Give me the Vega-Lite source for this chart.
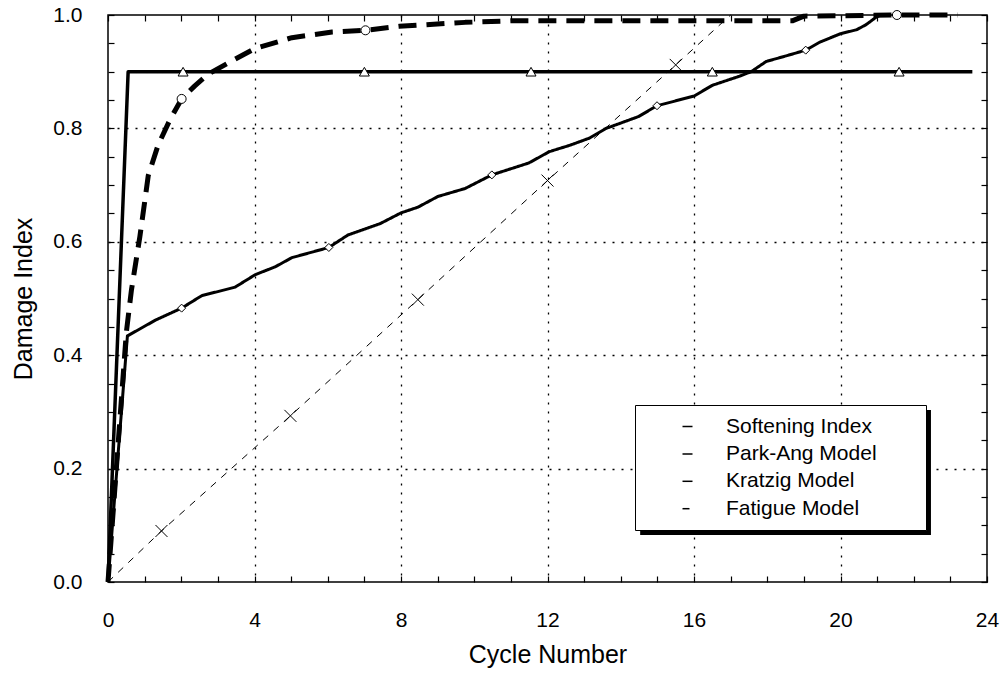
{
  "$schema": "https://vega.github.io/schema/vega-lite/v6.json",
  "autosize": {"type": "none"},
  "width": 879,
  "height": 567,
  "padding": {"left": 108, "top": 15, "right": 13, "bottom": 92},
  "background": "white",
  "config": {
    "font": "Liberation Sans",
    "view": {"stroke": "black", "strokeWidth": 1.5},
    "axis": {
      "labelFont": "Liberation Sans",
      "labelFontSize": 21,
      "labelColor": "black",
      "titleFont": "Liberation Sans",
      "titleFontSize": 25,
      "titleFontWeight": "normal",
      "titleColor": "black",
      "tickColor": "black",
      "tickWidth": 1.2,
      "domain": false
    }
  },
  "datasets": {
    "lines": [
      {"series": "Softening Index", "x": 0, "y": 0},
      {"series": "Softening Index", "x": 0.55, "y": 0.9},
      {"series": "Softening Index", "x": 23.6, "y": 0.9},
      {"series": "Park-Ang Model", "x": 0, "y": 0},
      {"series": "Park-Ang Model", "x": 0.53, "y": 0.434},
      {"series": "Park-Ang Model", "x": 1.3, "y": 0.462},
      {"series": "Park-Ang Model", "x": 2.01, "y": 0.483},
      {"series": "Park-Ang Model", "x": 2.56, "y": 0.505},
      {"series": "Park-Ang Model", "x": 3.47, "y": 0.52},
      {"series": "Park-Ang Model", "x": 4.02, "y": 0.542},
      {"series": "Park-Ang Model", "x": 4.57, "y": 0.556},
      {"series": "Park-Ang Model", "x": 5.02, "y": 0.572},
      {"series": "Park-Ang Model", "x": 6.03, "y": 0.59},
      {"series": "Park-Ang Model", "x": 6.55, "y": 0.612},
      {"series": "Park-Ang Model", "x": 7.43, "y": 0.632},
      {"series": "Park-Ang Model", "x": 8.0, "y": 0.651},
      {"series": "Park-Ang Model", "x": 8.46, "y": 0.661},
      {"series": "Park-Ang Model", "x": 9.01, "y": 0.68},
      {"series": "Park-Ang Model", "x": 9.75, "y": 0.694},
      {"series": "Park-Ang Model", "x": 10.48, "y": 0.718},
      {"series": "Park-Ang Model", "x": 11.49, "y": 0.739},
      {"series": "Park-Ang Model", "x": 12.05, "y": 0.759},
      {"series": "Park-Ang Model", "x": 12.6, "y": 0.77},
      {"series": "Park-Ang Model", "x": 13.15, "y": 0.783},
      {"series": "Park-Ang Model", "x": 13.6, "y": 0.8},
      {"series": "Park-Ang Model", "x": 14.49, "y": 0.821},
      {"series": "Park-Ang Model", "x": 14.99, "y": 0.84},
      {"series": "Park-Ang Model", "x": 16.0, "y": 0.857},
      {"series": "Park-Ang Model", "x": 16.5, "y": 0.876},
      {"series": "Park-Ang Model", "x": 17.24, "y": 0.892},
      {"series": "Park-Ang Model", "x": 17.56, "y": 0.9},
      {"series": "Park-Ang Model", "x": 17.97, "y": 0.918},
      {"series": "Park-Ang Model", "x": 18.52, "y": 0.928},
      {"series": "Park-Ang Model", "x": 19.05, "y": 0.938},
      {"series": "Park-Ang Model", "x": 19.43, "y": 0.952},
      {"series": "Park-Ang Model", "x": 20.0, "y": 0.967},
      {"series": "Park-Ang Model", "x": 20.44, "y": 0.974},
      {"series": "Park-Ang Model", "x": 20.7, "y": 0.983},
      {"series": "Park-Ang Model", "x": 20.97, "y": 0.996},
      {"series": "Park-Ang Model", "x": 21.1, "y": 1.0},
      {"series": "Kratzig Model", "x": 0, "y": 0},
      {"series": "Kratzig Model", "x": 0.5, "y": 0.44},
      {"series": "Kratzig Model", "x": 0.64, "y": 0.515},
      {"series": "Kratzig Model", "x": 0.87, "y": 0.609},
      {"series": "Kratzig Model", "x": 1.1, "y": 0.717},
      {"series": "Kratzig Model", "x": 1.37, "y": 0.771},
      {"series": "Kratzig Model", "x": 1.69, "y": 0.815},
      {"series": "Kratzig Model", "x": 2.01, "y": 0.852},
      {"series": "Kratzig Model", "x": 2.37, "y": 0.875},
      {"series": "Kratzig Model", "x": 2.74, "y": 0.896},
      {"series": "Kratzig Model", "x": 3.38, "y": 0.919},
      {"series": "Kratzig Model", "x": 4.02, "y": 0.941},
      {"series": "Kratzig Model", "x": 5.02, "y": 0.96},
      {"series": "Kratzig Model", "x": 6.12, "y": 0.97},
      {"series": "Kratzig Model", "x": 7.03, "y": 0.973},
      {"series": "Kratzig Model", "x": 7.95, "y": 0.98},
      {"series": "Kratzig Model", "x": 9.75, "y": 0.987},
      {"series": "Kratzig Model", "x": 11.13, "y": 0.99},
      {"series": "Kratzig Model", "x": 13.0, "y": 0.99},
      {"series": "Kratzig Model", "x": 15.0, "y": 0.99},
      {"series": "Kratzig Model", "x": 18.7, "y": 0.99},
      {"series": "Kratzig Model", "x": 19.0, "y": 0.998},
      {"series": "Kratzig Model", "x": 21.54, "y": 1.0},
      {"series": "Kratzig Model", "x": 23.2, "y": 1.0},
      {"series": "Fatigue Model", "x": 0, "y": 0},
      {"series": "Fatigue Model", "x": 1.46, "y": 0.09},
      {"series": "Fatigue Model", "x": 4.98, "y": 0.293},
      {"series": "Fatigue Model", "x": 8.46, "y": 0.498},
      {"series": "Fatigue Model", "x": 12.0, "y": 0.708},
      {"series": "Fatigue Model", "x": 15.5, "y": 0.912},
      {"series": "Fatigue Model", "x": 17.0, "y": 1.0}
    ],
    "markers": [
      {"series": "Softening Index", "x": 2.05, "y": 0.9},
      {"series": "Softening Index", "x": 7.0, "y": 0.9},
      {"series": "Softening Index", "x": 11.55, "y": 0.9},
      {"series": "Softening Index", "x": 16.5, "y": 0.9},
      {"series": "Softening Index", "x": 21.6, "y": 0.9},
      {"series": "Park-Ang Model", "x": 2.01, "y": 0.483},
      {"series": "Park-Ang Model", "x": 6.03, "y": 0.59},
      {"series": "Park-Ang Model", "x": 10.48, "y": 0.718},
      {"series": "Park-Ang Model", "x": 14.99, "y": 0.84},
      {"series": "Park-Ang Model", "x": 19.05, "y": 0.938},
      {"series": "Kratzig Model", "x": 2.01, "y": 0.852},
      {"series": "Kratzig Model", "x": 7.03, "y": 0.973},
      {"series": "Kratzig Model", "x": 21.54, "y": 1.0},
      {"series": "Fatigue Model", "x": 1.46, "y": 0.09},
      {"series": "Fatigue Model", "x": 4.98, "y": 0.293},
      {"series": "Fatigue Model", "x": 8.46, "y": 0.498},
      {"series": "Fatigue Model", "x": 12.0, "y": 0.708},
      {"series": "Fatigue Model", "x": 15.5, "y": 0.912}
    ]
  },
  "resolve": {"axis": {"x": "independent", "y": "independent"}},
  "layer": [
    {
      "data": {"values": [{}]},
      "mark": {"type": "rect", "fill": "black"},
      "encoding": {
        "x": {"datum": 14.53, "type": "quantitative", "axis": null},
        "x2": {"datum": 22.47},
        "y": {"datum": 0.3034, "type": "quantitative", "axis": null},
        "y2": {"datum": 0.0829}
      }
    },
    {
      "data": {"name": "lines"},
      "mark": {"type": "line", "color": "black", "strokeCap": "butt", "strokeJoin": "round"},
      "encoding": {
        "x": {
          "field": "x", "type": "quantitative",
          "scale": {"domain": [0, 24], "nice": false, "zero": false},
          "axis": {
            "values": [0,1,2,3,4,5,6,7,8,9,10,11,12,13,14,15,16,17,18,19,20,21,22,23,24],
            "labelExpr": "datum.value % 4 === 0 ? datum.label : ''",
            "labelFlush": false,
            "labelOverlap": false,
            "tickSize": -6,
            "labelPadding": 33,
            "grid": true,
            "gridColor": "black",
            "gridDash": [2, 7],
            "gridWidth": 1.3,
            "gridOpacity": {"condition": {"test": "datum.value % 4 === 0 && datum.value > 0 && datum.value < 24", "value": 1}, "value": 0},
            "title": "Cycle Number",
            "titlePadding": 12
          }
        },
        "y": {
          "field": "y", "type": "quantitative",
          "scale": {"domain": [0, 1], "nice": false},
          "axis": {
            "values": [0,0.05,0.1,0.15,0.2,0.25,0.3,0.35,0.4,0.45,0.5,0.55,0.6,0.65,0.7,0.75,0.8,0.85,0.9,0.95,1],
            "labelExpr": "abs(datum.value*5 - round(datum.value*5)) < 0.001 ? format(datum.value, '.1f') : ''",
            "labelFlush": false,
            "labelOverlap": false,
            "tickSize": -6,
            "labelPadding": 32,
            "grid": true,
            "gridColor": "black",
            "gridDash": [2, 7],
            "gridWidth": 1.3,
            "gridOpacity": {"condition": {"test": "abs(datum.value*5 - round(datum.value*5)) < 0.001 && datum.value > 0.01 && datum.value < 0.99", "value": 1}, "value": 0},
            "title": "Damage Index",
            "titlePadding": 16
          }
        },
        "strokeDash": {
          "field": "series", "type": "nominal",
          "scale": {"domain": ["Softening Index", "Park-Ang Model", "Kratzig Model", "Fatigue Model"], "range": [[1, 0], [1, 0], [18, 10], [7, 7]]},
          "legend": {
            "title": null,
            "orient": "none",
            "legendX": 527,
            "legendY": 390,
            "fillColor": "white",
            "strokeColor": "black",
            "padding": 11,
            "rowPadding": 5.4,
            "symbolSize": 100,
            "symbolOffset": 31,
            "labelOffset": 28,
            "labelLimit": 400,
            "labelFont": "Liberation Sans",
            "labelFontSize": 21,
            "labelColor": "black",
            "labelExpr": "datum.label + '\u00a0\u00a0\u00a0\u00a0\u2800'",
            "encode": {
              "legend": {"strokeWidth": {"value": 1.5}},
              "symbols": {
                "size": {"value": 100},
                "stroke": {"value": "black"},
                "fill": {"value": "white"},
                "strokeWidth": {"value": 1.2},
                "strokeDash": {"value": [1, 0]},
                "opacity": {"value": 1}
              }
            }
          }
        },
        "strokeWidth": {
          "condition": [
            {"test": "datum.series === 'Softening Index'", "value": 3.5},
            {"test": "datum.series === 'Park-Ang Model'", "value": 3},
            {"test": "datum.series === 'Kratzig Model'", "value": 5}
          ],
          "value": 1
        }
      }
    },
    {
      "data": {"name": "markers"},
      "mark": {"type": "point", "fill": "white", "stroke": "black", "strokeWidth": 1, "opacity": 1, "filled": true},
      "encoding": {
        "x": {
          "field": "x", "type": "quantitative",
          "axis": {
            "orient": "top",
            "values": [0,1,2,3,4,5,6,7,8,9,10,11,12,13,14,15,16,17,18,19,20,21,22,23,24],
            "labels": false, "grid": false, "tickSize": -6, "title": null
          }
        },
        "y": {
          "field": "y", "type": "quantitative",
          "axis": {
            "orient": "right",
            "values": [0,0.05,0.1,0.15,0.2,0.25,0.3,0.35,0.4,0.45,0.5,0.55,0.6,0.65,0.7,0.75,0.8,0.85,0.9,0.95,1],
            "labels": false, "grid": false, "tickSize": -6, "title": null
          }
        },
        "shape": {
          "condition": [
            {"test": "datum.series === 'Softening Index'", "value": "triangle-up"},
            {"test": "datum.series === 'Park-Ang Model'", "value": "diamond"},
            {"test": "datum.series === 'Kratzig Model'", "value": "circle"}
          ],
          "value": "M-1,-1L1,1M-1,1L1,-1"
        },
        "size": {
          "condition": [
            {"test": "datum.series === 'Softening Index'", "value": 100},
            {"test": "datum.series === 'Park-Ang Model'", "value": 64},
            {"test": "datum.series === 'Kratzig Model'", "value": 81}
          ],
          "value": 144
        }
      }
    }
  ]
}
